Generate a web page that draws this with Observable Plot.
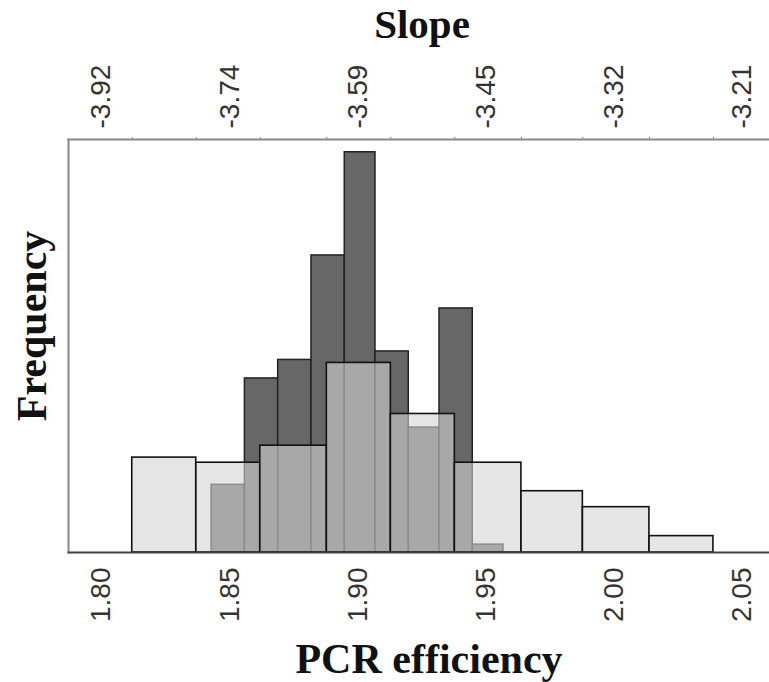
<!DOCTYPE html>
<html>
<head>
<meta charset="utf-8">
<script src="https://cdn.jsdelivr.net/npm/d3@7"></script>
<script src="https://cdn.jsdelivr.net/npm/@observablehq/plot@0.6"></script>
<style>
  html, body { margin: 0; padding: 0; background: #fff; }
  #chart svg { display: block; }
</style>
</head>
<body>
<div id="chart"></div>
<script>
// Tick values on the PCR efficiency axis and the matching slope labels
const effTicks = [1.80, 1.85, 1.90, 1.95, 2.00, 2.05];
const effLabels = ["1.80", "1.85", "1.90", "1.95", "2.00", "2.05"];
const slopeLabels = ["-3.92", "-3.74", "-3.59", "-3.45", "-3.32", "-3.21"];

// Wide-bin histogram (light bars)
const wideEdges = [1.812, 1.837, 1.862, 1.888, 1.913, 1.938, 1.964, 1.988, 2.014, 2.039];
const wideFreq = [4.46, 4.22, 5.02, 8.91, 6.51, 4.22, 2.88, 2.13, 0.77];

// Narrow-bin histogram (dark bars)
const narrowEdges = [1.843, 1.856, 1.869, 1.882, 1.895, 1.907, 1.920, 1.932, 1.945, 1.957];
const narrowFreq = [3.18, 8.18, 9.05, 13.96, 18.81, 9.45, 5.87, 11.47, 0.37];

const wide = wideFreq.map((f, i) => ({x1: wideEdges[i], x2: wideEdges[i + 1], y: f}));
const narrow = narrowFreq.map((f, i) => ({x1: narrowEdges[i], x2: narrowEdges[i + 1], y: f}));

const serif = "'Liberation Serif', 'DejaVu Serif', serif";
const sans = "'Liberation Sans', Arial, sans-serif";

const chart = Plot.plot({
  width: 769,
  height: 682,
  marginTop: 139,
  marginBottom: 130,
  marginLeft: 68,
  marginRight: 0,
  style: {background: "white", fontFamily: sans},
  x: {domain: [1.7871, 2.0609]},
  y: {domain: [0, 19.41], axis: null},
  marks: [
    Plot.rectY(narrow, {x1: "x1", x2: "x2", y: "y", fill: "#676767", stroke: "#222", strokeWidth: 1.5}),
    Plot.rectY(wide, {x1: "x1", x2: "x2", y: "y", fill: "#d3d3d3", fillOpacity: 0.6, stroke: "#111", strokeWidth: 1.6}),
    Plot.frame({anchor: "left", stroke: "#888", strokeWidth: 2}),
    Plot.frame({anchor: "top", stroke: "#888", strokeWidth: 2}),
    Plot.frame({anchor: "bottom", stroke: "#444", strokeWidth: 1.8}),
    Plot.axisX({anchor: "top", ticks: wideEdges, tickSize: 3, tickFormat: () => "", stroke: "#888", label: null}),
    Plot.axisX({
      anchor: "bottom", ticks: effTicks, tickSize: 0, tickPadding: 15, tickRotate: -90,
      tickFormat: (d, i) => effLabels[i], fontSize: 28, fill: "#333", fontFamily: sans, label: null
    }),
    Plot.axisX({
      anchor: "top", ticks: effTicks, tickSize: 0, tickPadding: 11, tickRotate: -90,
      tickFormat: (d, i) => slopeLabels[i], fontSize: 28, fill: "#333", fontFamily: sans, label: null
    }),
    Plot.text(["Slope"], {frameAnchor: "top", dy: -115, dx: 3, textAnchor: "middle", lineAnchor: "middle", text: d => d, fontSize: 41, fontWeight: "bold", fontFamily: serif, fill: "#111"}),
    Plot.text(["PCR efficiency"], {frameAnchor: "bottom", dy: 107, dx: 10, textAnchor: "middle", lineAnchor: "middle", text: d => d, fontSize: 42, fontWeight: "bold", fontFamily: serif, fill: "#111"}),
    Plot.text(["Frequency"], {frameAnchor: "left", dx: -36, dy: -20, rotate: -90, textAnchor: "middle", lineAnchor: "middle", text: d => d, fontSize: 42, fontWeight: "bold", fontFamily: serif, fill: "#111"})
  ]
});
document.getElementById("chart").appendChild(chart);
</script>
</body>
</html>
